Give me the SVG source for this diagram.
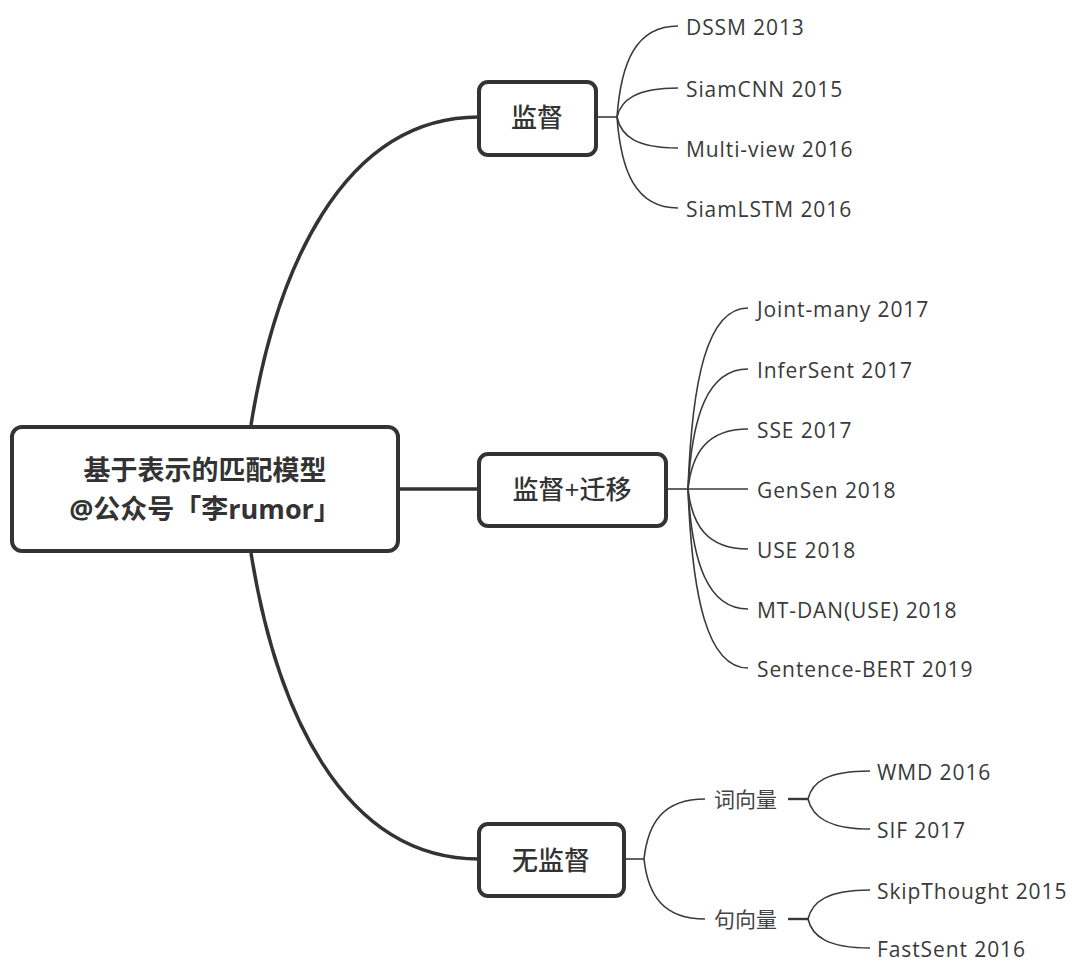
<svg xmlns="http://www.w3.org/2000/svg" width="1080" height="976" viewBox="0 0 1080 976">
<style>
.box{fill:#fff;stroke:#333;stroke-width:4}
.main{fill:none;stroke:#333;stroke-width:3.5}
.leafc{fill:none;stroke:#3a3a3a;stroke-width:1.6}
.mid{fill:none;stroke:#3a3a3a;stroke-width:2.4}
.t{font-family:"Open Sans","Noto Sans CJK SC",sans-serif;fill:#333}
.root{font-size:27px;font-weight:700;text-anchor:middle}
.topic{font-size:26px;font-weight:500;text-anchor:middle}
.leaf{font-size:21px;fill:#3a3a3a;letter-spacing:0.9px}
.sub{font-size:21px;fill:#444}
</style>
<rect width="1080" height="976" fill="#fff"/>
<g id="connectors">
<path class="main" d="M251,425 C275,275 340,117 479,117"/>
<path class="main" d="M400,489 L479,489"/>
<path class="main" d="M251,553 C275,704 340,859 479,859"/>
<path class="leafc" d="M598,117 L617,117"/>
<path class="leafc" d="M617,117 C621,62 636,26 678,26"/>
<path class="leafc" d="M617,117 C621,100 636,88 678,88"/>
<path class="leafc" d="M617,117 C621,136 636,148 678,148"/>
<path class="leafc" d="M617,117 C621,172 636,208 678,208"/>
<path class="leafc" d="M668,489 L688,489"/>
<path class="leafc" d="M688,489 C692,380 707,308 748,308"/>
<path class="leafc" d="M688,489 C692,417 707,369 748,369"/>
<path class="leafc" d="M688,489 C692,453 707,429 748,429"/>
<path class="leafc" d="M688,489 L748,489"/>
<path class="leafc" d="M688,489 C692,525 707,549 748,549"/>
<path class="leafc" d="M688,489 C692,561 707,609 748,609"/>
<path class="leafc" d="M688,489 C692,596 707,668 748,668"/>
<path class="leafc" d="M624,859 L644,859"/>
<path class="leafc" d="M644,859 C648,823 663,799 705,799"/>
<path class="leafc" d="M644,859 C648,895 663,919 705,919"/>
<path class="mid" d="M788,799 L808,799"/>
<path class="leafc" d="M808,799 C812,782 827,771 870,771"/>
<path class="leafc" d="M808,799 C812,816 827,829 870,829"/>
<path class="mid" d="M788,919 L808,919"/>
<path class="leafc" d="M808,919 C812,902 827,890 870,890"/>
<path class="leafc" d="M808,919 C812,936 827,948 870,948"/>
</g>
<g id="root">
<rect class="box" x="12" y="427" width="386" height="124" rx="10"/>
<text class="t root" x="205" y="480">基于表示的匹配模型</text>
<text class="t root" x="205" y="519">@公众号「李rumor」</text>
</g>
<g id="jiandu">
<rect class="box" x="479" y="82" width="117" height="73" rx="9"/>
<text class="t topic" x="537" y="127">监督</text>
</g>
<g id="jiandu-qianyi">
<rect class="box" x="479" y="454" width="187" height="72" rx="9"/>
<text class="t topic" x="572" y="499">监督+迁移</text>
</g>
<g id="wujiandu">
<rect class="box" x="479" y="824" width="145" height="72" rx="9"/>
<text class="t topic" x="551" y="870">无监督</text>
</g>
<g id="leaves-jiandu">
<text class="t leaf" x="686" y="35">DSSM 2013</text>
<text class="t leaf" x="686" y="97">SiamCNN 2015</text>
<text class="t leaf" x="686" y="157">Multi-view 2016</text>
<text class="t leaf" x="686" y="217">SiamLSTM 2016</text>
</g>
<g id="leaves-qianyi">
<text class="t leaf" x="757" y="317">Joint-many 2017</text>
<text class="t leaf" x="757" y="378">InferSent 2017</text>
<text class="t leaf" x="757" y="438">SSE 2017</text>
<text class="t leaf" x="757" y="498">GenSen 2018</text>
<text class="t leaf" x="757" y="558">USE 2018</text>
<text class="t leaf" x="757" y="618">MT-DAN(USE) 2018</text>
<text class="t leaf" x="757" y="677">Sentence-BERT 2019</text>
</g>
<g id="ciciang">
<text class="t sub" x="714" y="807">词向量</text>
</g>
<g id="juxiang">
<text class="t sub" x="714" y="927">句向量</text>
</g>
<g id="leaves-wujiandu">
<text class="t leaf" x="877" y="780">WMD 2016</text>
<text class="t leaf" x="877" y="838">SIF 2017</text>
<text class="t leaf" x="877" y="899">SkipThought 2015</text>
<text class="t leaf" x="877" y="957">FastSent 2016</text>
</g>
</svg>
